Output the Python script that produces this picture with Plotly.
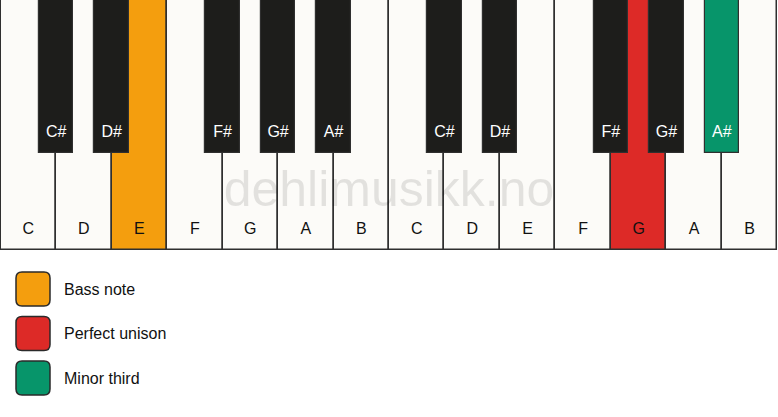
import plotly.graph_objects as go

# keyboard content
white_notes = ['C', 'D', 'E', 'F', 'G', 'A', 'B', 'C', 'D', 'E', 'F', 'G', 'A', 'B']
white_roles = [None, None, 'Bass note', None, None, None, None,
               None, None, None, None, 'Perfect unison', None, None]
black_notes = ['C#', 'D#', 'F#', 'G#', 'A#', 'C#', 'D#', 'F#', 'G#', 'A#']
black_slots = [1, 2, 4, 5, 6, 8, 9, 11, 12, 13]   # white-key boundary each black key sits on
black_roles = [None, None, None, None, None, None, None, None, None, 'Minor third']

legend_labels = ['Bass note', 'Perfect unison', 'Minor third']
role_colors = {'Bass note': '#f49e0e', 'Perfect unison': '#dd2a27', 'Minor third': '#07956a'}

WHITE = '#fcfbf8'
BLACK = '#1d1d1b'
EDGE = '#2f2f2f'
W, H = 778, 417
KEY_H, BLACK_H = 250, 153
FONT = 'Liberation Sans, Arial, sans-serif'

white_x = [i + 0.5 for i in range(len(white_notes))]
white_fill = [role_colors[r] if r else WHITE for r in white_roles]
black_fill = [role_colors[r] if r else BLACK for r in black_roles]

fig = go.Figure()

fig.add_trace(go.Bar(x=white_x, y=[KEY_H] * len(white_notes), base=0, width=1,
                     marker=dict(color=white_fill, line=dict(color=EDGE, width=1.5)),
                     hoverinfo='skip'))
fig.add_trace(go.Bar(x=black_slots, y=[BLACK_H] * len(black_notes), base=0, width=0.62,
                     marker=dict(color=black_fill, line=dict(color=EDGE, width=1.2)),
                     hoverinfo='skip'))

# watermark
fig.add_trace(go.Scatter(x=[7], y=[193], mode='text', text=['dehlimusikk.no'],
                         textfont=dict(family=FONT, size=50, color='rgba(0,0,0,0.10)'),
                         hoverinfo='skip'))

# key names
fig.add_trace(go.Scatter(x=white_x, y=[230] * len(white_notes), mode='text', text=white_notes,
                         textfont=dict(family=FONT, size=16, color='#111111'), hoverinfo='skip'))
fig.add_trace(go.Scatter(x=black_slots, y=[133] * len(black_notes), mode='text', text=black_notes,
                         textfont=dict(family=FONT, size=16, color='#ffffff'), hoverinfo='skip'))


def rounded_box(x0, y0, x1, y1, r):
    # x in paper fraction, y in data (pixel) units
    rx = r / W
    return (f'M {x0 + rx},{y0} L {x1 - rx},{y0} Q {x1},{y0} {x1},{y0 + r} '
            f'L {x1},{y1 - r} Q {x1},{y1} {x1 - rx},{y1} L {x0 + rx},{y1} '
            f'Q {x0},{y1} {x0},{y1 - r} L {x0},{y0 + r} Q {x0},{y0} {x0 + rx},{y0} Z')


for i, label in enumerate(legend_labels):
    top = 272 + i * 44.5
    fig.add_shape(type='path', xref='paper', yref='y',
                  path=rounded_box(16 / W, top, 50 / W, top + 34, 6),
                  fillcolor=role_colors[label], line=dict(color='#2a2a2a', width=1.5))
    fig.add_annotation(x=62 / W, y=top + 17, xref='paper', yref='y', text=label,
                       showarrow=False, xanchor='left', yanchor='middle',
                       font=dict(family=FONT, size=16, color='#111111'))

fig.update_layout(
    width=W, height=H,
    margin=dict(l=0, r=0, t=0, b=0),
    paper_bgcolor='white', plot_bgcolor='white',
    showlegend=False, barmode='overlay', bargap=0,
    xaxis=dict(range=[-0.012, 14.012], visible=False, fixedrange=True),
    yaxis=dict(range=[H, 0], visible=False, fixedrange=True),
)

fig.write_html('out.html', config={'displayModeBar': False},
               post_script="document.body.style.margin='0';")
